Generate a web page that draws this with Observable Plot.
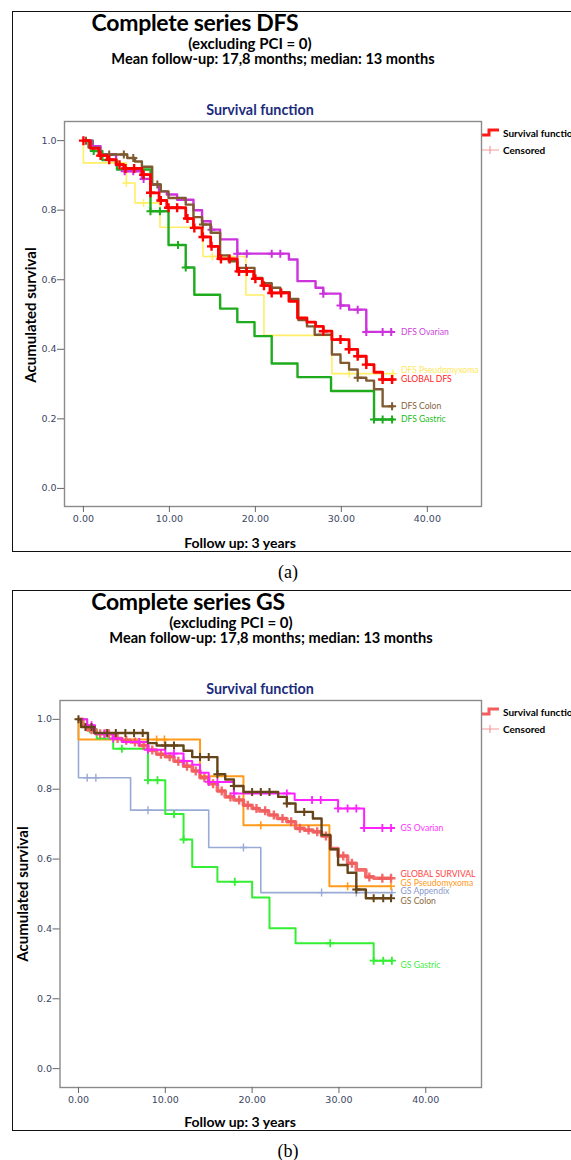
<!DOCTYPE html>
<html><head><meta charset="utf-8">
<script src="https://cdn.jsdelivr.net/npm/d3@7"></script>
<script src="https://cdn.jsdelivr.net/npm/@observablehq/plot@0.6"></script>
<style>
html,body{margin:0;padding:0;background:#fff;overflow:hidden;}
#page{position:relative;width:571px;height:1160px;overflow:hidden;font-family:Lato,"Open Sans",sans-serif;}
.box{position:absolute;left:12px;width:620px;border:1.6px solid #111;box-sizing:border-box;}
.tx{position:absolute;white-space:nowrap;line-height:1;transform:translate(-50%,-50%);}
.tl{position:absolute;white-space:nowrap;line-height:1;transform:translate(0,-50%);}
#page svg.plotsvg{position:absolute;left:0;}
</style></head><body><div id="page"></div>
<script>
// ---------- shared axis ticks ----------
const xTicks = [0, 10, 20, 30, 40];
const yTicks = [0, 0.2, 0.4, 0.6, 0.8, 1.0];

// ---------- Panel (a): DFS ----------
const dfsGlobalT = [0,0.8,1.8,2.8,3.8,4.7,6.8,7.8,8.8,9.7,11.9,12.8,13.8,14.8,15.7,17.9,19.8,20.8,21.7,23.9,24.9,26.0,27.0,27.9,28.9,30.9,31.9,32.9,33.8,34.8,36];
const dfsGlobalS = [1,0.978,0.957,0.945,0.931,0.92,0.902,0.85,0.828,0.807,0.776,0.749,0.723,0.696,0.66,0.624,0.603,0.583,0.562,0.538,0.49,0.478,0.466,0.452,0.428,0.40,0.38,0.356,0.334,0.313,0.313];
const dfsGlobalC = [0,2,3,4.2,4.9,5.9,7,7.8,9,9.9,10.9,12.1,12.9,13.9,14.9,16,17,18.1,19,20,21,21.9,23,27.9,29.9,30.9,31.9,32.9,34.8,35.9];

const dfsColonT = [0,0.6,1.9,5.1,6.0,6.8,8.0,9.0,9.9,11.9,12.8,13.8,14.8,15.9,16.9,17.9,19.9,20.8,21.9,22.9,24.0,25.0,26.0,26.9,28.9,29.9,30.9,31.9,32.9,33.8,34.8,36];
const dfsColonS = [1,0.98,0.96,0.95,0.94,0.925,0.874,0.854,0.835,0.816,0.78,0.759,0.735,0.67,0.653,0.634,0.605,0.59,0.577,0.564,0.545,0.484,0.466,0.442,0.385,0.361,0.342,0.318,0.31,0.285,0.236,0.236];
const dfsColonC = [0.3,3.0,4.7,5.8,8.6,13.9,18.9,31.9,35.9];

const dfsOvarianT = [0,1.0,2.0,3.8,4.7,6.8,7.8,8.8,9.7,10.9,12.8,13.8,14.8,15.9,17.9,23.9,24.9,27.0,27.9,29.9,30.9,32.9,36];
const dfsOvarianS = [1,0.984,0.96,0.93,0.912,0.89,0.874,0.854,0.845,0.83,0.80,0.768,0.744,0.716,0.675,0.658,0.596,0.577,0.56,0.526,0.514,0.45,0.45];
const dfsOvarianC = [4.8,5.8,7.0,14.9,17.9,19.0,21.9,22.9,27.9,29.9,31.9,32.9,34.8,35.8];

const dfsGastricT = [0,1.1,2.2,3.9,7.8,9.9,11.9,12.9,15.9,17.9,19.9,21.9,24.9,28.8,33.8,36];
const dfsGastricS = [1,0.97,0.944,0.917,0.797,0.70,0.635,0.557,0.517,0.478,0.438,0.359,0.32,0.28,0.198,0.198];
const dfsGastricC = [1.2,7.8,8.9,11.0,11.9,33.8,34.8,35.9];

const dfsPseudoT = [0,0,5.0,6.0,8.9,13.9,18.9,21.0,28.9,36];
const dfsPseudoS = [1,0.936,0.878,0.821,0.751,0.667,0.556,0.44,0.33,0.33];
const dfsPseudoC = [5.0,7.0,15.0,30.9,36];

// ---------- Panel (b): GS ----------
const gsGlobalT = [0,0.5,1.0,2.0,4.0,5.0,6.0,7.0,8.0,9.0,10.0,11.0,12.1,13.1,14.0,15.0,16.0,16.9,17.9,19.0,20.0,20.8,21.9,22.9,24.0,25.0,26.0,27.0,28.0,29.0,29.9,31.0,32.0,33.1,34.0,36];
const gsGlobalS = [1,0.983,0.97,0.959,0.945,0.94,0.935,0.925,0.912,0.90,0.893,0.88,0.866,0.852,0.833,0.816,0.795,0.778,0.769,0.754,0.745,0.738,0.726,0.716,0.707,0.688,0.683,0.678,0.666,0.63,0.609,0.588,0.569,0.549,0.545,0.545];
const gsGlobalC = [1.5,2.5,3,3.5,4.5,5.5,6.5,7.5,8.5,9.5,10.5,11.5,12.5,13.5,14.5,15.5,16.5,17.5,18.5,19.5,20.5,21.5,22.5,23.5,24.5,25.5,26.5,27.5,28.5,30.5,31.5,33.5,35,36];

const gsColonT = [0,0.3,1.8,8.0,9.0,12.1,13.1,16.0,16.9,17.9,19.0,23.0,24.0,25.0,27.0,28.0,29.0,29.9,31.0,32.0,33.1,36];
const gsColonS = [1,0.978,0.961,0.932,0.925,0.91,0.892,0.843,0.828,0.809,0.792,0.778,0.759,0.735,0.716,0.669,0.628,0.583,0.561,0.513,0.488,0.488];
const gsColonC = [0,0.8,1.5,3.3,4.3,5.4,6.4,7.4,10,11,14,15,16,17.9,20,21,22,24,26,32,34,35.1,36];

const gsOvarianT = [0,1.0,1.9,4.0,5.0,8.0,10.0,12.1,13.1,14.0,15.0,17.9,24.9,29.9,32.9,36];
const gsOvarianS = [1,0.983,0.959,0.945,0.935,0.913,0.902,0.881,0.87,0.847,0.821,0.788,0.769,0.745,0.689,0.689];
const gsOvarianC = [1.5,3.0,4.0,7.0,8.0,11.0,12.1,15.0,16.0,17.9,24.0,26.9,27.9,29.9,31,32,32.9,35,36];

const gsPseudoT = [0,0,14.0,19.0,28.9,36];
const gsPseudoS = [1,0.942,0.837,0.697,0.522,0.522];
const gsPseudoC = [9.0,9.9,21.0,31.0,36];

const gsAppendixT = [0,0,6.0,15.0,21.0,36];
const gsAppendixS = [1,0.833,0.74,0.633,0.504,0.504];
const gsAppendixC = [1.0,2.0,8.0,19.0,28.0,32.0,36.1];

const gsGastricT = [0,1.0,2.1,4.0,8.0,10.0,12.1,13.1,16.0,20.0,22.0,25.0,34.0,36];
const gsGastricS = [1,0.972,0.945,0.916,0.826,0.729,0.656,0.577,0.535,0.49,0.402,0.359,0.309,0.309];
const gsGastricC = [1.3,5.0,8.0,9.1,11.0,12.1,18.0,29.0,34.0,35.1,36.1];

// ---------- texts ----------
const titleA = "Complete series DFS";
const titleB = "Complete series GS";
const subtitle1 = "(excluding PCI = 0)";
const subtitle2 = "Mean follow-up: 17,8 months; median: 13 months";
const chartTitle = "Survival function";
const xLabel = "Follow up: 3 years";
const yLabel = "Acumulated survival";
const legendItems = ["Survival function", "Censored"];

// ---------- helpers ----------
const page = document.getElementById("page");
const plusSymbol = {draw(ctx, size){const h = Math.sqrt(size/Math.PI); ctx.moveTo(-h,0); ctx.lineTo(h,0); ctx.moveTo(0,-h); ctx.lineTo(0,h);}};
function stepRows(T,S){return T.map((t,i)=>({t, s:S[i]}));}
function censorRows(T,S,C){return C.map(t=>{let v=S[0]; for(let i=0;i<T.length;i++){ if(T[i]<=t) v=S[i]; } return {t, s:v};});}
function txt(str, x, y, css, cls){const d=document.createElement("div"); d.className=cls||"tx"; d.textContent=str; d.style.left=x+"px"; d.style.top=y+"px"; Object.assign(d.style, css||{}); page.appendChild(d); return d;}

function buildPanel(p){
  const off = p.off;
  const fr = document.createElement("div"); fr.className="box"; fr.style.top=(11+off)+"px"; fr.style.height="541px"; page.appendChild(fr);
  txt(p.title, p.titleX, 22+off, {fontSize:"23px", fontWeight:"700", letterSpacing:"-0.3px"});
  txt(subtitle1, p.sub1X, 43+off, {fontSize:"15px", fontWeight:"700"});
  txt(subtitle2, p.sub2X, 59+off, {fontSize:"14.6px", fontWeight:"700"});
  txt(chartTitle, 260, 110+off, {fontSize:"14.3px", fontWeight:"700", color:"#1d2b7d"});
  txt(xLabel, 240, 543+off, {fontSize:"14px", fontWeight:"700"});
  txt(yLabel, p.yLabX, 315+off, {fontSize:"15px", fontWeight:"700", transform:"translate(-50%,-50%) rotate(-90deg)"});
  txt(p.tag, 288, 572+off, {fontSize:"18px", fontFamily:"'Liberation Serif', serif"});
  const lg = document.createElementNS("http://www.w3.org/2000/svg","svg");
  lg.setAttribute("width","20"); lg.setAttribute("height","30");
  lg.style.position="absolute"; lg.style.left="481px"; lg.style.top=(126+off)+"px";
  lg.innerHTML = `<path d="M1,9 H8 V4 H18" fill="none" stroke="${p.legendColor}" stroke-width="3"/>`+
    `<path d="M1,24 H18 M9,20 V28" fill="none" stroke="#f59a9a" stroke-width="1.2"/>`;
  page.appendChild(lg);
  txt(legendItems[0], 503, 133+off, {fontSize:"10px", fontWeight:"700"}, "tl");
  txt(legendItems[1], 503, 150+off, {fontSize:"10px", fontWeight:"700"}, "tl");

  const marks = [Plot.frame({stroke:"#8a8a8a", strokeWidth:1.4})];
  for (const s of p.series){
    marks.push(Plot.line(stepRows(s.T,s.S), {x:"t", y:"s", curve:"step-after", stroke:s.color, strokeWidth:s.w, strokeOpacity:s.op||1}));
    marks.push(Plot.dot(censorRows(s.T,s.S,s.C), {x:"t", y:"s", symbol:plusSymbol, r:s.cr, stroke:s.color, strokeWidth:s.cw, strokeOpacity:s.op||1, fill:"none"}));
  }
  for (const s of p.series){
    const n = s.T.length-1;
    marks.push(Plot.text([{t:s.T[n], s:s.S[n], label:s.label}], {x:"t", y:"s", text:"label", dx:p.labelDx, dy:s.ldy, textAnchor:"start", fill:s.lc, fontSize:8.6, fontFamily:"Lato"}));
  }
  marks.push(Plot.axisX({ticks:xTicks, tickFormat:d3.format(".2f"), tickSize:6, tickPadding:3, stroke:"#666", fill:"#3c4663", fontSize:9.5, label:null}));
  marks.push(Plot.axisY({ticks:yTicks, tickFormat:d3.format(".1f"), tickSize:7, tickPadding:1, stroke:"#666", fill:"#3c4663", fontSize:9.5, label:null}));

  const svg = Plot.plot({
    width:571, height:560,
    marginLeft:p.ml, marginRight:90, marginTop:122, marginBottom:p.mb,
    x:{domain:p.xd}, y:{domain:p.yd},
    style:{fontFamily:"'DejaVu Sans', sans-serif", fontSize:"9.5px", background:"transparent", overflow:"visible"},
    marks
  });
  svg.classList.add("plotsvg");
  svg.style.top = (off-1)+"px";
  page.appendChild(svg);
}

buildPanel({
  off:0, title:titleA, titleX:195, sub1X:250, sub2X:273, yLabX:30, tag:"(a)", legendColor:"#ff1a1a",
  ml:64, mb:53, xd:[-2.2,46.3], yd:[-0.052,1.055], labelDx:8,
  series:[
    {T:dfsPseudoT, S:dfsPseudoS, C:dfsPseudoC, color:"#ffee66", w:1.6, cr:4, cw:1.4, label:"DFS Pseudomyxoma", lc:"#ffe95a", ldy:-3},
    {T:dfsGastricT, S:dfsGastricS, C:dfsGastricC, color:"#1eab1e", w:2.4, cr:4, cw:2, label:"DFS Gastric", lc:"#22bb22", ldy:0},
    {T:dfsOvarianT, S:dfsOvarianS, C:dfsOvarianC, color:"#cc33dd", w:2.4, cr:4, cw:2, label:"DFS Ovarian", lc:"#cc44dd", ldy:0},
    {T:dfsColonT, S:dfsColonS, C:dfsColonC, color:"#7f5a30", w:2.4, cr:4, cw:2, label:"DFS Colon", lc:"#86643f", ldy:0},
    {T:dfsGlobalT, S:dfsGlobalS, C:dfsGlobalC, color:"#ff0000", w:2.8, cr:4.5, cw:2.4, label:"GLOBAL DFS", lc:"#ff2222", ldy:0}
  ]
});

buildPanel({
  off:579, title:titleB, titleX:188, sub1X:231, sub2X:271, yLabX:22, tag:"(b)", legendColor:"#f25c5c",
  ml:59.5, mb:51, xd:[-2.13,46.42], yd:[-0.054,1.054], labelDx:9.5,
  series:[
    {T:gsAppendixT, S:gsAppendixS, C:gsAppendixC, color:"#9aaad6", w:1.6, cr:4, cw:1.4, label:"GS Appendix", lc:"#8899cc", ldy:-1},
    {T:gsPseudoT, S:gsPseudoS, C:gsPseudoC, color:"#ff9a1a", w:2, cr:4, cw:1.6, label:"GS Pseudomyxoma", lc:"#ff9922", ldy:-3},
    {T:gsGastricT, S:gsGastricS, C:gsGastricC, color:"#33ee33", w:2, cr:4, cw:1.8, label:"GS Gastric", lc:"#44ee44", ldy:5},
    {T:gsGlobalT, S:gsGlobalS, C:gsGlobalC, color:"#f25c5c", w:3.6, cr:4.5, cw:2.4, op:0.9, label:"GLOBAL SURVIVAL", lc:"#ff4444", ldy:-4},
    {T:gsOvarianT, S:gsOvarianS, C:gsOvarianC, color:"#ff22ff", w:2, cr:4, cw:1.8, label:"GS Ovarian", lc:"#ff33ff", ldy:0},
    {T:gsColonT, S:gsColonS, C:gsColonC, color:"#66441a", w:2.4, cr:4, cw:2, label:"GS Colon", lc:"#8b6a3d", ldy:3}
  ]
});
</script></body></html>
